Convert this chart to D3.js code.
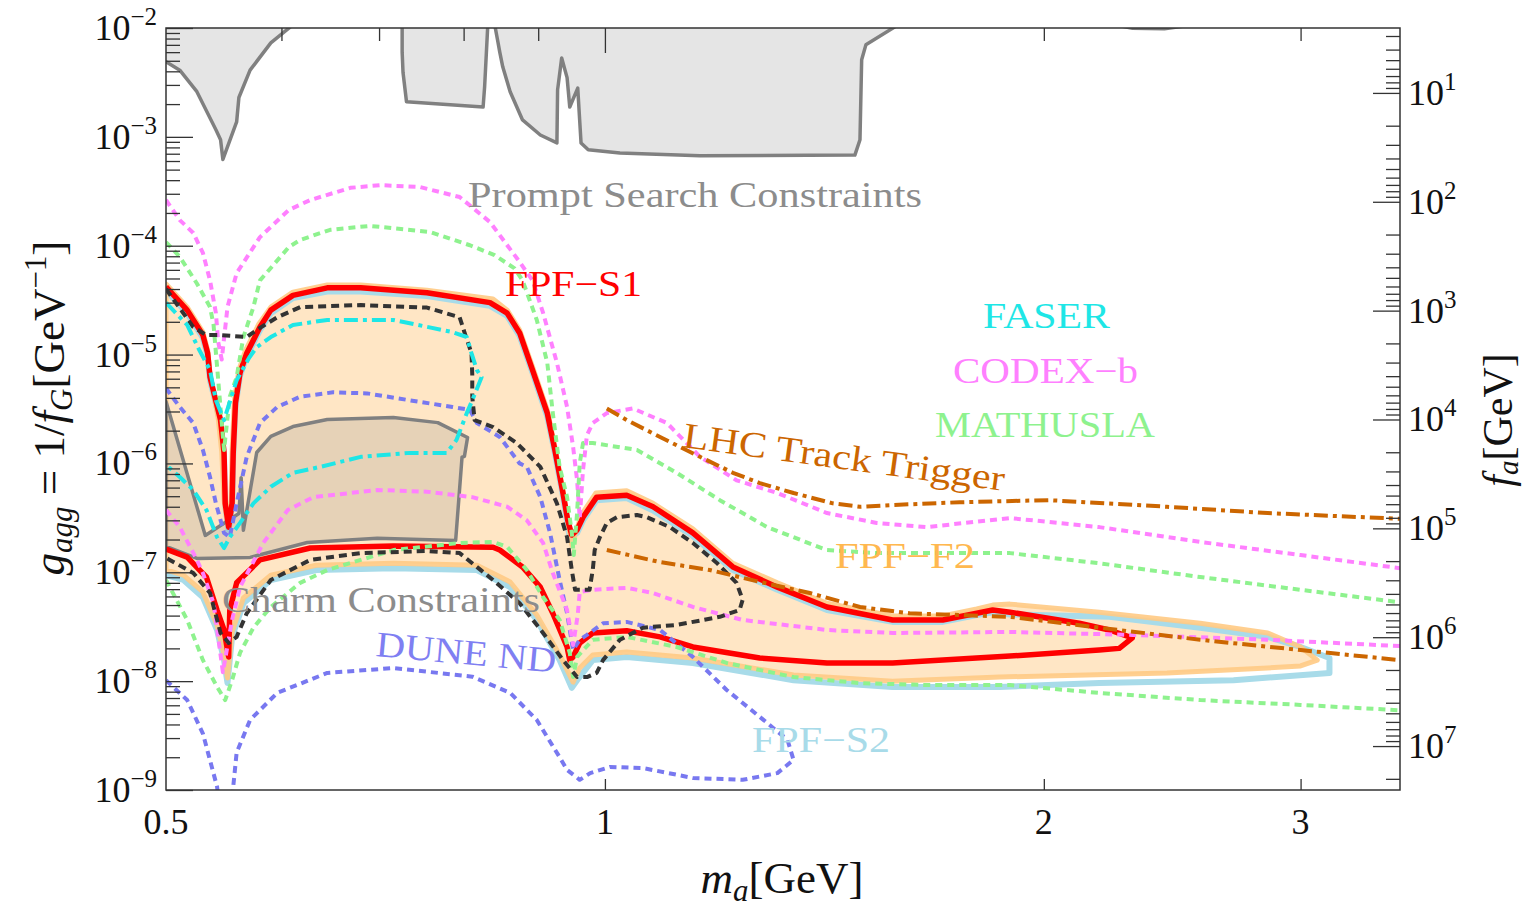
<!DOCTYPE html>
<html><head><meta charset="utf-8">
<script src="https://cdn.jsdelivr.net/npm/d3@7"></script>
<style>
body{margin:0;background:#fff}
svg{display:block}
text{font-family:"Liberation Serif","Times New Roman",serif}
</style>
</head><body>
<svg id="c" width="1529" height="911"></svg>
<script>
// ---------- data: [m_a (GeV), g_agg (GeV^-1)] ----------
const massTicks = [0.5, 1, 2, 3];
const massMinorTop = [0.6, 0.7, 0.8, 0.9, 2, 3];
const gDecades = [-9, -8, -7, -6, -5, -4, -3, -2];
const faDecades = [1, 2, 3, 4, 5, 6, 7];

const promptLeft = [[0.49,1.3e-2],[0.49,5.0e-3],[0.5,4.9e-3],[0.511,4.1e-3],[0.525,2.6e-3],[0.541,1.16e-3],[0.545,9.4e-4],[0.547,6.2e-4],[0.559,1.37e-3],[0.561,2.3e-3],[0.571,4.1e-3],[0.590,7.3e-3],[0.611,1.07e-2],[0.62,1.3e-2]];
const promptMid = [[0.726,1.3e-2],[0.726,6.0e-3],[0.727,3.9e-3],[0.731,2.1e-3],[0.825,1.88e-3],[0.827,2.9e-3],[0.831,1.02e-2],[0.832,1.3e-2]];
const promptRight = [[0.838,1.3e-2],[0.844,7.8e-3],[0.847,6.0e-3],[0.851,4.4e-3],[0.861,2.6e-3],[0.878,1.43e-3],[0.903,1.04e-3],[0.927,8.8e-4],[0.928,2.7e-3],[0.934,5.3e-3],[0.942,3.5e-3],[0.946,1.88e-3],[0.958,2.8e-3],[0.963,8.8e-4],[0.974,7.6e-4],[1.024,7.1e-4],[1.162,6.7e-4],[1.484,6.8e-4],[1.496,9.4e-4],[1.500,5.1e-3],[1.510,7.0e-3],[1.580,1.02e-2],[1.593,1.3e-2]];
const promptSliver = [[2.22,1.05e-2],[2.30,9.6e-3],[2.42,9.5e-3],[2.56,1.05e-2]];

const charm = [[0.5,3.7e-6],[0.532,2.18e-7],[0.561,3.47e-7],[0.563,7.4e-7],[0.565,2.43e-7],[0.577,1.26e-6],[0.590,1.77e-6],[0.611,2.18e-6],[0.645,2.53e-6],[0.716,2.64e-6],[0.768,2.37e-6],[0.805,1.73e-6],[0.801,1.16e-6],[0.798,1.14e-6],[0.790,1.96e-7],[0.698,2.05e-7],[0.625,1.88e-7],[0.571,1.37e-7],[0.525,1.34e-7],[0.5,1.73e-7]];

const fpfF2 = [[0.5,4.45e-5],[0.517,2.73e-5],[0.530,1.61e-5],[0.534,1.10e-5],[0.536,6.6e-6],[0.543,2.6e-6],[0.546,1.28e-6],[0.548,4.6e-7],[0.551,2.77e-7],[0.554,4.6e-7],[0.555,1.28e-6],[0.557,3.8e-6],[0.561,7.2e-6],[0.567,1.1e-5],[0.579,1.91e-5],[0.590,2.73e-5],[0.611,3.75e-5],[0.645,4.36e-5],[0.680,4.36e-5],[0.755,3.9e-5],[0.838,3.24e-5],[0.857,2.56e-5],[0.874,1.68e-5],[0.892,7.7e-6],[0.913,3.1e-6],[0.924,1.42e-6],[0.936,5.7e-7],[0.943,2.9e-7],[0.949,1.78e-7],[0.957,2.55e-7],[0.964,3.4e-7],[0.986,5.35e-7],[1.035,5.6e-7],[1.079,4.3e-7],[1.149,2.5e-7],[1.224,1.21e-7],[1.313,8.0e-8],[1.420,5.2e-8],[1.575,3.97e-8],[1.705,3.97e-8],[1.799,4.6e-8],[1.845,5.0e-8],[1.896,5.1e-8],[2.183,4.3e-8],[2.56,3.4e-8],[2.848,2.77e-8],[3.0,2.06e-8],[3.08,1.56e-8],[3.0,1.38e-8],[2.848,1.32e-8],[2.429,1.19e-8],[1.866,1.09e-8],[1.575,1.0e-8],[1.347,1.14e-8],[1.149,1.63e-8],[1.035,1.85e-8],[0.981,1.74e-8],[0.961,1.32e-8],[0.951,9.8e-9],[0.931,1.74e-8],[0.898,4.05e-8],[0.861,8.15e-8],[0.817,1.16e-7],[0.716,1.21e-7],[0.634,1.16e-7],[0.590,9.4e-8],[0.565,5.8e-8],[0.555,2.83e-8],[0.551,1.07e-8],[0.548,1.74e-8],[0.542,3.28e-8],[0.530,6.6e-8],[0.514,9.4e-8],[0.5,1.05e-7]];

const fpfS2 = [[0.5,3.9e-5],[0.517,2.4e-5],[0.530,1.42e-5],[0.534,9.7e-6],[0.536,5.8e-6],[0.545,2.35e-6],[0.548,1.17e-6],[0.549,4.06e-7],[0.552,2.45e-7],[0.555,4.06e-7],[0.556,1.17e-6],[0.558,3.37e-6],[0.562,6.4e-6],[0.568,9.7e-6],[0.580,1.68e-5],[0.590,2.4e-5],[0.611,3.3e-5],[0.645,3.8e-5],[0.680,3.8e-5],[0.755,3.45e-5],[0.834,2.8e-5],[0.857,2.26e-5],[0.874,1.48e-5],[0.892,6.8e-6],[0.913,2.7e-6],[0.924,1.25e-6],[0.936,5.0e-7],[0.946,2.06e-7],[0.957,2.3e-7],[0.966,3.0e-7],[0.987,4.6e-7],[1.035,4.8e-7],[1.079,3.7e-7],[1.149,2.15e-7],[1.224,1.05e-7],[1.313,6.9e-8],[1.420,4.5e-8],[1.575,3.5e-8],[1.705,3.5e-8],[1.799,4.05e-8],[1.845,4.3e-8],[1.896,4.1e-8],[2.218,3.9e-8],[2.56,3.1e-8],[2.848,2.55e-8],[3.0,2.06e-8],[3.14,1.63e-8],[3.14,1.19e-8],[2.699,1.02e-8],[2.183,9.6e-9],[1.866,8.85e-9],[1.575,8.85e-9],[1.347,1.02e-8],[1.149,1.47e-8],[1.035,1.67e-8],[0.981,1.56e-8],[0.957,1.02e-8],[0.949,8.7e-9],[0.931,1.56e-8],[0.898,3.65e-8],[0.861,7.3e-8],[0.817,1.05e-7],[0.716,1.09e-7],[0.634,1.05e-7],[0.590,8.5e-8],[0.565,5.2e-8],[0.555,2.55e-8],[0.551,9.6e-9],[0.548,1.56e-8],[0.542,2.95e-8],[0.530,5.9e-8],[0.514,8.5e-8],[0.5,9.4e-8]];

const fpfS1 = [[0.5,4.2e-5],[0.517,2.56e-5],[0.530,1.51e-5],[0.534,1.03e-5],[0.536,6.2e-6],[0.545,2.5e-6],[0.548,1.25e-6],[0.549,4.3e-7],[0.552,2.6e-7],[0.555,4.3e-7],[0.556,1.25e-6],[0.558,3.6e-6],[0.562,6.8e-6],[0.568,1.03e-5],[0.580,1.79e-5],[0.590,2.56e-5],[0.611,3.5e-5],[0.645,4.1e-5],[0.680,4.1e-5],[0.755,3.7e-5],[0.834,3.0e-5],[0.857,2.4e-5],[0.874,1.58e-5],[0.892,7.2e-6],[0.913,2.9e-6],[0.924,1.33e-6],[0.936,5.3e-7],[0.943,3.0e-7],[0.949,2.2e-7],[0.957,2.45e-7],[0.966,3.2e-7],[0.987,4.9e-7],[1.035,5.1e-7],[1.079,4.0e-7],[1.149,2.3e-7],[1.224,1.12e-7],[1.313,7.3e-8],[1.420,4.8e-8],[1.575,3.65e-8],[1.705,3.65e-8],[1.799,4.2e-8],[1.845,4.5e-8],[1.896,4.3e-8],[2.115,3.4e-8],[2.218,2.95e-8],[2.300,2.5e-8],[2.253,2.0e-8],[2.183,1.93e-8],[1.896,1.70e-8],[1.575,1.47e-8],[1.420,1.47e-8],[1.277,1.63e-8],[1.149,2.06e-8],[1.091,2.55e-8],[1.035,2.9e-8],[0.981,2.77e-8],[0.961,2.24e-8],[0.951,1.67e-8],[0.946,1.56e-8],[0.942,2.06e-8],[0.921,4.2e-8],[0.903,7.3e-8],[0.878,1.12e-7],[0.847,1.6e-7],[0.838,1.7e-7],[0.716,1.74e-7],[0.628,1.67e-7],[0.580,1.3e-7],[0.559,8.0e-8],[0.553,4.5e-8],[0.552,1.67e-8],[0.548,2.95e-8],[0.542,4.5e-8],[0.533,9.0e-8],[0.517,1.38e-7],[0.5,1.63e-7]];

const faser2 = [[0.5,4.0e-5],[0.522,1.79e-5],[0.533,1.51e-5],[0.545,1.51e-5],[0.568,1.45e-5],[0.580,1.76e-5],[0.596,2.2e-5],[0.618,2.73e-5],[0.680,2.85e-5],[0.755,2.7e-5],[0.795,2.2e-5],[0.801,1.61e-5],[0.810,1.03e-5],[0.811,6.5e-6],[0.811,4.1e-6],[0.814,2.5e-6],[0.838,2.16e-6],[0.870,1.54e-6],[0.903,9.3e-7],[0.927,4.3e-7],[0.942,2.1e-7],[0.949,1.05e-7],[0.954,6.9e-8],[0.976,6.9e-8],[0.981,1.05e-7],[0.984,1.6e-7],[0.992,2.1e-7],[1.003,2.84e-7],[1.019,3.2e-7],[1.052,3.36e-7],[1.069,3.2e-7],[1.108,2.6e-7],[1.149,1.86e-7],[1.194,1.21e-7],[1.231,8.0e-8],[1.243,5.6e-8],[1.237,4.5e-8],[1.199,3.9e-8],[1.120,3.28e-8],[1.062,3.1e-8],[1.024,2.4e-8],[0.997,1.56e-8],[0.987,1.19e-8],[0.972,1.09e-8],[0.957,1.09e-8],[0.936,1.56e-8],[0.907,2.77e-8],[0.874,5.2e-8],[0.838,8.5e-8],[0.795,1.5e-7],[0.755,1.57e-7],[0.680,1.5e-7],[0.628,1.3e-7],[0.590,8.5e-8],[0.568,4.2e-8],[0.559,2.55e-8],[0.552,2.24e-8],[0.545,2.77e-8],[0.536,6.45e-8],[0.522,9.85e-8],[0.503,1.3e-7],[0.5,1.36e-7]];

const faser = [[0.5,3.0e-5],[0.517,1.87e-5],[0.527,1.1e-5],[0.536,7.2e-6],[0.541,3.8e-6],[0.548,2.5e-6],[0.559,5.8e-6],[0.570,9.3e-6],[0.577,1.17e-5],[0.590,1.45e-5],[0.611,1.87e-5],[0.645,2.08e-5],[0.716,2.08e-5],[0.786,1.61e-5],[0.804,1.45e-5],[0.810,1.03e-5],[0.817,7.2e-6],[0.823,6.2e-6],[0.811,3.8e-6],[0.804,2.9e-6],[0.791,1.64e-6],[0.779,1.25e-6],[0.735,1.25e-6],[0.680,1.15e-6],[0.638,9.3e-7],[0.611,8.2e-7],[0.590,6.1e-7],[0.574,4.3e-7],[0.562,2.84e-7],[0.553,2.1e-7],[0.548,1.67e-7],[0.542,2.1e-7],[0.533,3.73e-7],[0.522,5.7e-7],[0.511,7.5e-7],[0.5,9.7e-7]];

const codexUpper = [[0.5,2.63e-4],[0.511,1.72e-4],[0.522,1.31e-4],[0.530,8.6e-5],[0.536,4.8e-5],[0.541,2.41e-5],[0.543,1.3e-5],[0.546,9.0e-6],[0.551,2.73e-5],[0.559,5.6e-5],[0.580,1.2e-4],[0.607,2.13e-4],[0.628,2.63e-4],[0.669,3.4e-4],[0.701,3.6e-4],[0.746,3.47e-4],[0.795,2.8e-4],[0.834,1.65e-4],[0.857,1.01e-4],[0.874,7.1e-5],[0.892,4.8e-5],[0.907,2.41e-5],[0.927,8.4e-6],[0.942,3.3e-6],[0.951,1.42e-6],[0.957,7.0e-7],[0.961,3.15e-7],[0.966,8.7e-7],[0.972,1.82e-6],[0.981,2.35e-6],[1.003,2.9e-6],[1.045,3.2e-6],[1.103,2.35e-6],[1.162,1.15e-6],[1.231,7.0e-7],[1.313,5.35e-7],[1.420,3.5e-7],[1.536,2.84e-7],[1.662,2.6e-7],[1.896,3.15e-7],[2.183,2.6e-7],[2.56,1.9e-7],[3.0,1.44e-7],[3.51,1.09e-7]];
const codexLower = [[0.5,3.73e-7],[0.511,2.6e-7],[0.525,1.3e-7],[0.530,9.85e-8],[0.539,5.2e-8],[0.547,1.21e-8],[0.555,3.65e-8],[0.562,7.3e-8],[0.583,1.86e-7],[0.606,3.73e-7],[0.631,4.9e-7],[0.698,5.7e-7],[0.755,5.5e-7],[0.811,4.9e-7],[0.857,4.0e-7],[0.884,3.0e-7],[0.907,1.86e-7],[0.921,9.85e-8],[0.942,4.5e-8],[0.951,2.15e-8],[0.958,4.05e-8],[0.961,6.6e-8],[0.981,6.9e-8],[1.035,7.2e-8],[1.079,6.45e-8],[1.149,4.8e-8],[1.243,3.65e-8],[1.420,2.95e-8],[1.575,2.77e-8],[1.896,2.83e-8],[2.300,2.66e-8],[2.848,2.4e-8],[3.51,2.1e-8]];

const mathuslaUpper = [[0.5,1.08e-4],[0.511,7.9e-5],[0.525,4.5e-5],[0.536,2.73e-5],[0.539,1.87e-5],[0.543,5.8e-6],[0.548,1.33e-6],[0.553,4.1e-6],[0.559,6.2e-6],[0.565,1.45e-5],[0.574,2.73e-5],[0.580,4.8e-5],[0.607,9.7e-5],[0.618,1.13e-4],[0.648,1.4e-4],[0.690,1.52e-4],[0.758,1.34e-4],[0.808,1.01e-4],[0.840,8.2e-5],[0.867,6.2e-5],[0.878,4.8e-5],[0.898,2.08e-5],[0.913,8.4e-6],[0.921,2.9e-6],[0.931,9.3e-7],[0.942,4.9e-7],[0.949,2.3e-7],[0.952,1.44e-7],[0.957,3.5e-7],[0.961,1.0e-6],[0.966,1.54e-6],[0.981,1.54e-6],[1.052,1.33e-6],[1.120,8.2e-7],[1.199,4.6e-7],[1.292,2.6e-7],[1.420,1.6e-7],[1.536,1.5e-7],[1.662,1.5e-7],[1.896,1.5e-7],[2.183,1.21e-7],[2.56,9.05e-8],[3.0,6.9e-8],[3.51,5.3e-8]];
const mathuslaLower = [[0.5,8.5e-8],[0.503,7.3e-8],[0.517,3.65e-8],[0.530,1.56e-8],[0.542,8.85e-9],[0.549,6.7e-9],[0.555,1.02e-8],[0.562,1.82e-8],[0.574,3.1e-8],[0.590,4.8e-8],[0.618,8.0e-8],[0.645,1.05e-7],[0.716,1.6e-7],[0.795,1.86e-7],[0.838,1.9e-7],[0.857,1.71e-7],[0.884,1.05e-7],[0.907,5.9e-8],[0.931,3.65e-8],[0.946,1.82e-8],[0.951,1.09e-8],[0.957,1.67e-8],[0.981,2.4e-8],[1.035,2.55e-8],[1.120,2.06e-8],[1.212,1.47e-8],[1.347,1.09e-8],[1.496,9.6e-9],[1.662,9.2e-9],[1.896,9.2e-9],[2.183,7.8e-9],[2.56,6.7e-9],[3.0,6.05e-9],[3.51,5.4e-9]];

const duneMain = [[0.5,4.9e-6],[0.511,3.3e-6],[0.522,2.35e-6],[0.530,1.33e-6],[0.536,7.5e-7],[0.541,4.3e-7],[0.548,2.3e-7],[0.553,2.1e-7],[0.559,4.3e-7],[0.568,1.15e-6],[0.580,2.35e-6],[0.596,3.3e-6],[0.618,4.1e-6],[0.651,4.5e-6],[0.687,4.4e-6],[0.735,3.8e-6],[0.786,3.3e-6],[0.808,3.1e-6],[0.817,2.35e-6],[0.847,1.75e-6],[0.874,1.0e-6],[0.884,9.3e-7],[0.903,4.9e-7],[0.917,2.3e-7],[0.931,8.5e-8],[0.942,4.2e-8],[0.951,1.93e-8],[0.961,2.4e-8],[0.972,2.66e-8],[0.997,3.4e-8],[1.035,3.5e-8],[1.091,2.95e-8],[1.149,1.67e-8],[1.212,8.3e-9],[1.277,4.7e-9],[1.334,2.9e-9],[1.347,1.89e-9],[1.313,1.43e-9],[1.243,1.24e-9],[1.149,1.29e-9],[1.062,1.59e-9],[1.008,1.63e-9],[0.977,1.43e-9],[0.961,1.24e-9],[0.942,1.53e-9],[0.931,2.0e-9],[0.898,4.4e-9],[0.861,7.8e-9],[0.811,1.1e-8],[0.716,1.32e-8],[0.645,1.19e-8],[0.596,7.8e-9],[0.571,4.4e-9],[0.559,2.2e-9],[0.556,1.07e-9],[0.555,7e-10]];
const duneLeft = [[0.5,1.02e-8],[0.517,6.7e-9],[0.530,3.3e-9],[0.542,1.07e-9],[0.544,7e-10]];

const lhcUpper = [[1.003,3.2e-6],[1.035,2.5e-6],[1.091,1.75e-6],[1.162,1.15e-6],[1.224,8.2e-7],[1.277,6.6e-7],[1.347,5.35e-7],[1.433,4.3e-7],[1.496,4.0e-7],[1.575,4.15e-7],[1.751,4.4e-7],[2.016,4.6e-7],[2.429,4.0e-7],[2.848,3.5e-7],[3.51,3.1e-7]];
const lhcLower = [[1.003,1.6e-7],[1.091,1.24e-7],[1.180,1.05e-7],[1.277,8.15e-8],[1.382,6.45e-8],[1.496,4.8e-8],[1.618,4.2e-8],[1.751,4.05e-8],[1.896,3.9e-8],[2.183,3.1e-8],[2.56,2.4e-8],[3.0,1.93e-8],[3.51,1.56e-8]];

// ---------- layout ----------
const L = 166, R = 1400, T = 28, B = 790;
const x = d3.scaleLog().domain([0.5, 3.51]).range([L, R]);
const y = d3.scaleLog().domain([1e-9, 1e-2]).range([B, T]);
const faPerG = 1 / (4 * Math.PI * Math.PI); // f_a = faPerG / g
const fa = d3.scaleLog().domain([faPerG / 1e-2, faPerG / 1e-9]).range([T, B]);

const svg = d3.select("#c");
svg.append("rect").attr("width", 1529).attr("height", 911).attr("fill", "#fff");
svg.append("defs").append("clipPath").attr("id", "clip")
  .append("rect").attr("x", L).attr("y", T).attr("width", R - L).attr("height", B - T);
const plot = svg.append("g").attr("clip-path", "url(#clip)");
const line = d3.line().x(d => x(d[0])).y(d => y(d[1]));

function poly(data, fill, stroke, sw, extra) {
  const p = plot.append("path").attr("d", line(data) + "Z")
    .attr("fill", fill).attr("stroke", stroke).attr("stroke-width", sw)
    .attr("stroke-linejoin", "round");
  if (extra) extra(p);
  return p;
}
function curve(data, stroke, sw, dash) {
  return plot.append("path").attr("d", line(data)).attr("fill", "none")
    .attr("stroke", stroke).attr("stroke-width", sw)
    .attr("stroke-linejoin", "round")
    .attr("stroke-dasharray", dash || null);
}

// prompt constraints
[promptLeft, promptMid, promptRight].forEach(d => poly(d, "#e5e5e5", "#808080", 3.5));
poly(promptSliver, "#7a7a7a", "none", 0);

// FPF-F2 fill, FPF-S2 outline, F2 border
poly(fpfF2, "#ffe6c5", "none", 0);
curve(fpfS2, "#a8dbe9", 6);
poly(fpfF2, "none", "#ffca84", 5, p => p.attr("stroke-opacity", 0.9));

// charm
poly(charm, "#808080", "#808080", 3.5, p => p.attr("fill-opacity", 0.2));

// FPF-S1
curve(fpfS1, "#ff0000", 5.5);

// dashed projections
curve(duneMain, "#7878f0", 4, "7,5");
curve(duneLeft, "#7878f0", 4, "7,5");
curve(codexUpper, "#ff80ff", 4, "7,5");
curve(codexLower, "#ff80ff", 4, "7,5");
curve(mathuslaUpper, "#8ef28e", 4, "7,5");
curve(mathuslaLower, "#8ef28e", 4, "7,5");
curve(faser2, "#333333", 4, "8,5");
curve(faser, "#1ee6e6", 4, "14,5,4,5");
curve(lhcUpper, "#cc6600", 4, "14,5,4,5");
curve(lhcLower, "#cc6600", 4, "14,5,4,5");

// ---------- labels ----------
const labels = svg.append("g").attr("font-size", 36);
function lab(t, px, py, len, color, rot) {
  const e = labels.append("text").text(t).attr("fill", color)
    .attr("textLength", len).attr("lengthAdjust", "spacingAndGlyphs");
  if (rot) e.attr("transform", `translate(${px},${py}) rotate(${rot})`);
  else e.attr("x", px).attr("y", py);
}
lab("Prompt Search Constraints", 468, 207, 454, "#8c8c8c");
lab("FPF\u2212S1", 505, 296, 137, "#ff0000");
lab("FASER", 983, 328, 127, "#1ee6e6");
lab("CODEX\u2212b", 953, 383, 185, "#ff80ff");
lab("MATHUSLA", 935, 437, 220, "#8ef28e");
lab("LHC Track Trigger", 682, 447, 324, "#cc6600", 7.8);
lab("FPF\u2212F2", 835, 568, 140, "#ffb84f");
lab("Charm Constraints", 222, 612, 318, "#8c8c8c");
lab("DUNE ND", 375, 656, 181, "#7f7ff2", 5.3);
lab("FPF\u2212S2", 752, 752, 138, "#a8dbe9");

// ---------- axes ----------
const axCol = "#333";
function styleAxis(g) {
  g.select(".domain").remove();
  g.selectAll("line").attr("stroke", axCol).attr("stroke-width", 1.3);
  g.selectAll("text").remove();
}
const gMajor = gDecades.map(k => Math.pow(10, k));
const gMinor = [];
gDecades.slice(0, -1).forEach(k => { for (let j = 2; j <= 9; j++) gMinor.push(j * Math.pow(10, k)); });
svg.append("g").attr("transform", `translate(${L},0)`).call(d3.axisRight(y).tickValues(gMajor).tickSize(27)).call(styleAxis);
svg.append("g").attr("transform", `translate(${L},0)`).call(d3.axisRight(y).tickValues(gMinor).tickSize(14)).call(styleAxis);

const faMajor = faDecades.map(k => Math.pow(10, k));
const faMinor = [];
const [faLo, faHi] = fa.domain();
for (let k = 0; k <= 7; k++) for (let j = 2; j <= 9; j++) { const v = j * Math.pow(10, k); if (v > faLo && v < faHi) faMinor.push(v); }
svg.append("g").attr("transform", `translate(${R},0)`).call(d3.axisLeft(fa).tickValues(faMajor).tickSize(27)).call(styleAxis);
svg.append("g").attr("transform", `translate(${R},0)`).call(d3.axisLeft(fa).tickValues(faMinor).tickSize(14)).call(styleAxis);

svg.append("g").attr("transform", `translate(0,${T})`).call(d3.axisBottom(x).tickValues(massMinorTop).tickSize(13)).call(styleAxis);
svg.append("g").attr("transform", `translate(0,${T})`).call(d3.axisBottom(x).tickValues([1]).tickSize(25)).call(styleAxis);
svg.append("g").attr("transform", `translate(0,${B})`).call(d3.axisTop(x).tickValues(massTicks.slice(1)).tickSize(11)).call(styleAxis);

svg.append("rect").attr("x", L).attr("y", T).attr("width", R - L).attr("height", B - T)
  .attr("fill", "none").attr("stroke", axCol).attr("stroke-width", 1.5);

// tick labels
const tl = svg.append("g").attr("font-size", 36).attr("fill", "#111");
gDecades.forEach(k => {
  const t = tl.append("text").attr("x", 157).attr("y", y(Math.pow(10, k)) + 12).attr("text-anchor", "end");
  t.append("tspan").text("10");
  t.append("tspan").attr("font-size", 25).attr("dy", -15).text("\u2212" + (-k));
});
faDecades.forEach(k => {
  const t = tl.append("text").attr("x", 1408).attr("y", fa(Math.pow(10, k)) + 12);
  t.append("tspan").text("10");
  t.append("tspan").attr("font-size", 25).attr("dy", -15).text(String(k));
});
massTicks.forEach(v => {
  tl.append("text").attr("x", x(v)).attr("y", 834).attr("text-anchor", "middle").text(String(v));
});

// axis titles
const tt = svg.append("g").attr("font-size", 45).attr("fill", "#111");
const xt = tt.append("text").attr("x", 782).attr("y", 893).attr("text-anchor", "middle");
xt.append("tspan").attr("font-style", "italic").text("m");
xt.append("tspan").attr("font-style", "italic").attr("font-size", 31).attr("dy", 8).text("a");
xt.append("tspan").attr("dy", -8).text("[GeV]");

const yt = tt.append("text").attr("transform", "translate(64,408) rotate(-90)").attr("text-anchor", "middle");
yt.append("tspan").attr("font-style", "italic").text("g");
yt.append("tspan").attr("font-style", "italic").attr("font-size", 31).attr("dy", 8).text("agg");
yt.append("tspan").attr("dy", -8).text(" = 1/");
yt.append("tspan").attr("font-style", "italic").text("f");
yt.append("tspan").attr("font-style", "italic").attr("font-size", 31).attr("dy", 8).text("G");
yt.append("tspan").attr("dy", -8).text("[GeV");
yt.append("tspan").attr("font-size", 31).attr("dy", -18).text("\u22121");
yt.append("tspan").attr("dy", 18).text("]");

const rt = tt.append("text").attr("transform", "translate(1512,420) rotate(-90)").attr("text-anchor", "middle").attr("font-size", 42);
rt.append("tspan").attr("font-style", "italic").text("f");
rt.append("tspan").attr("font-style", "italic").attr("font-size", 29).attr("dy", 6).text("a");
rt.append("tspan").attr("dy", -6).text("[GeV]");
</script>
</body></html>
